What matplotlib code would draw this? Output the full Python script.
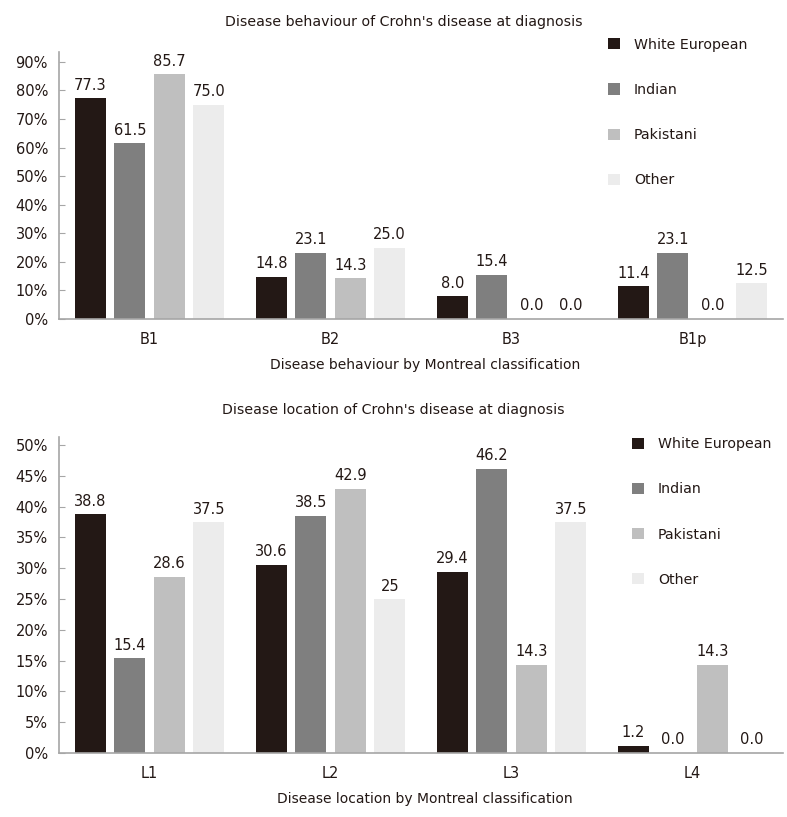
import matplotlib
matplotlib.use("Agg")
import matplotlib.pyplot as plt
import numpy as np

groups = ["White European", "Indian", "Pakistani", "Other"]
colors = ["#231815", "#7f7f7f", "#bfbfbf", "#ececec"]

behav_cats = ["B1", "B2", "B3", "B1p"]
behav_vals = [
    [77.3, 14.8, 8.0, 11.4],
    [61.5, 23.1, 15.4, 23.1],
    [85.7, 14.3, 0.0, 0.0],
    [75.0, 25.0, 0.0, 12.5],
]
behav_labels = [
    ["77.3", "14.8", "8.0", "11.4"],
    ["61.5", "23.1", "15.4", "23.1"],
    ["85.7", "14.3", "0.0", "0.0"],
    ["75.0", "25.0", "0.0", "12.5"],
]

loc_cats = ["L1", "L2", "L3", "L4"]
loc_vals = [
    [38.8, 30.6, 29.4, 1.2],
    [15.4, 38.5, 46.2, 0.0],
    [28.6, 42.9, 14.3, 14.3],
    [37.5, 25.0, 37.5, 0.0],
]
loc_labels = [
    ["38.8", "30.6", "29.4", "1.2"],
    ["15.4", "38.5", "46.2", "0.0"],
    ["28.6", "42.9", "14.3", "14.3"],
    ["37.5", "25", "37.5", "0.0"],
]

plt.rcParams["font.family"] = "DejaVu Sans"
fig = plt.figure(figsize=(7.87, 8.17), dpi=100)

axis_col = "#a6a6a6"
txt_col = "#231815"


def draw(ax, cats, vals, labels, ymax, ystep, top, title, title_xy, xlabel, leg_xy):
    x = np.arange(len(cats))
    w = 0.17
    step = 0.218
    handles = []
    for i, g in enumerate(groups):
        pos = x + (i - 1.5) * step
        b = ax.bar(pos, vals[i], width=w, color=colors[i], label=g)
        handles.append(b)
        for p, v, s in zip(pos, vals[i], labels[i]):
            ax.annotate(s, (p, v), xytext=(0, 4), textcoords="offset points",
                        ha="center", va="bottom", fontsize=10.5, color=txt_col)
    ax.set_xlim(-0.5, len(cats) - 0.5)
    ax.set_ylim(0, top)
    ticks = np.arange(0, ymax + 0.1, ystep)
    ax.set_yticks(ticks)
    ax.set_yticklabels(["%d%%" % t for t in ticks])
    ax.set_xticks(x)
    ax.set_xticklabels(cats)
    ax.tick_params(axis="y", direction="in", length=4, color=axis_col,
                   labelsize=10.5, labelcolor=txt_col, pad=8)
    ax.tick_params(axis="x", length=0, labelsize=10.5, labelcolor=txt_col, pad=9)
    for sp in ["top", "right"]:
        ax.spines[sp].set_visible(False)
    for sp in ["left", "bottom"]:
        ax.spines[sp].set_color(axis_col)
        ax.spines[sp].set_linewidth(1.2)
    fig.text(title_xy[0], title_xy[1], title, fontsize=10.2, color=txt_col,
             ha="center", va="center")
    ax.set_xlabel(xlabel, fontsize=10, color=txt_col, labelpad=8)
    ax.xaxis.label.set_x(0.505)
    fig.legend(handles=handles, loc="upper left", bbox_to_anchor=leg_xy,
               frameon=False, fontsize=10.2, handlelength=0.85, handleheight=0.85,
               labelspacing=2.2, handletextpad=1.0, labelcolor=txt_col)


ax1 = fig.add_axes([0.075, 0.6095, 0.92, 0.327])
draw(ax1, behav_cats, behav_vals, behav_labels, 90, 10, 93.5,
     "Disease behaviour of Crohn's disease at diagnosis", (0.513, 0.973),
     "Disease behaviour by Montreal classification", (0.756, 0.9694))

ax2 = fig.add_axes([0.075, 0.0783, 0.92, 0.3867])
draw(ax2, loc_cats, loc_vals, loc_labels, 50, 5, 51.3,
     "Disease location of Crohn's disease at diagnosis", (0.4995, 0.498),
     "Disease location by Montreal classification", (0.7865, 0.4805))

fig.savefig("out.png", dpi=100)
